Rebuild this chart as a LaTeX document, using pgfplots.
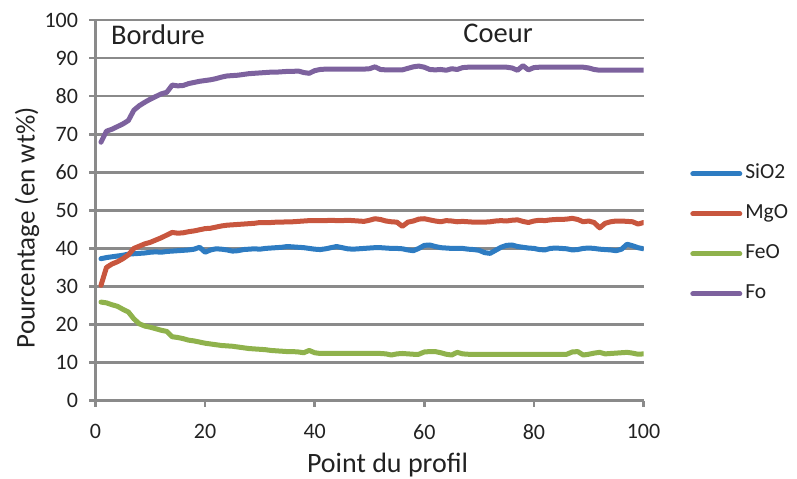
\documentclass[border=0pt]{standalone}
\usepackage{fontspec}
\setmainfont{Carlito}
\usepackage{pgfplots}
\usepackage{pgfplotstable}
\pgfplotsset{compat=1.18}
\definecolor{cSi}{HTML}{2E7CC2}
\definecolor{cMg}{HTML}{C8563E}
\definecolor{cFe}{HTML}{8FB24C}
\definecolor{cFo}{HTML}{7D629E}
\definecolor{gridgray}{HTML}{8A8A8A}
\definecolor{txt}{HTML}{222222}
\pgfplotstableread{
x si mg fe fo
1 37.3 30.3 25.9 67.9
2 37.6 35.0 25.7 70.8
3 37.8 35.9 25.2 71.3
4 38.0 36.5 24.8 72.0
5 38.2 37.3 24.0 72.7
6 38.5 38.3 23.3 73.6
7 38.6 40.0 21.5 76.3
8 38.7 40.6 20.2 77.5
9 38.8 41.2 19.6 78.4
10 39.0 41.6 19.3 79.2
11 39.1 42.2 18.9 79.9
12 39.0 42.8 18.5 80.6
13 39.2 43.5 18.2 81.0
14 39.3 44.2 16.8 82.9
15 39.4 44.0 16.6 82.7
16 39.5 44.1 16.3 82.8
17 39.6 44.4 15.9 83.3
18 39.8 44.6 15.7 83.6
19 40.3 44.9 15.4 83.9
20 39.0 45.2 15.1 84.1
21 39.6 45.3 14.9 84.3
22 39.9 45.6 14.7 84.6
23 39.8 45.9 14.5 85.0
24 39.6 46.1 14.4 85.3
25 39.3 46.2 14.3 85.4
26 39.4 46.3 14.1 85.5
27 39.7 46.4 13.9 85.7
28 39.8 46.5 13.7 85.9
29 39.9 46.6 13.6 86.0
30 39.8 46.8 13.5 86.1
31 40.0 46.8 13.4 86.2
32 40.1 46.8 13.2 86.3
33 40.2 46.9 13.1 86.3
34 40.3 46.9 13.0 86.4
35 40.5 47.0 12.9 86.5
36 40.4 47.0 12.9 86.5
37 40.3 47.1 12.8 86.6
38 40.2 47.2 12.6 86.2
39 40.0 47.3 13.2 86.0
40 39.8 47.3 12.6 86.7
41 39.7 47.3 12.4 87.0
42 39.9 47.3 12.4 87.1
43 40.2 47.4 12.4 87.1
44 40.5 47.3 12.4 87.1
45 40.2 47.3 12.4 87.1
46 39.9 47.4 12.4 87.1
47 39.8 47.3 12.4 87.1
48 39.9 47.2 12.4 87.1
49 40.0 47.1 12.4 87.1
50 40.1 47.4 12.4 87.2
51 40.2 47.8 12.4 87.7
52 40.2 47.6 12.4 87.0
53 40.1 47.2 12.3 86.9
54 40.0 47.0 12.0 86.9
55 40.0 46.9 12.3 86.9
56 39.9 45.8 12.4 86.9
57 39.6 46.9 12.3 87.3
58 39.4 47.2 12.2 87.7
59 40.0 47.7 12.2 87.9
60 40.8 47.8 12.8 87.6
61 40.9 47.5 12.9 87.0
62 40.5 47.2 12.9 86.9
63 40.2 47.0 12.6 87.0
64 40.1 47.3 12.2 86.8
65 40.0 47.2 12.0 87.2
66 40.0 47.0 12.7 87.0
67 40.0 47.1 12.3 87.5
68 39.8 47.0 12.2 87.6
69 39.7 46.9 12.2 87.6
70 39.5 46.9 12.2 87.6
71 38.9 46.9 12.2 87.6
72 38.7 47.0 12.2 87.6
73 39.5 47.2 12.2 87.6
74 40.3 47.3 12.2 87.6
75 40.8 47.2 12.2 87.6
76 40.9 47.4 12.2 87.4
77 40.5 47.5 12.2 86.8
78 40.3 47.1 12.2 88.0
79 40.1 46.8 12.2 86.9
80 40.0 47.2 12.2 87.5
81 39.7 47.4 12.2 87.6
82 39.6 47.3 12.2 87.6
83 40.0 47.5 12.2 87.6
84 40.1 47.6 12.2 87.6
85 40.0 47.6 12.2 87.6
86 39.9 47.7 12.2 87.6
87 39.6 47.9 12.8 87.6
88 39.7 47.6 12.9 87.6
89 40.0 47.0 12.0 87.6
90 40.1 47.2 12.2 87.4
91 40.0 46.8 12.5 87.0
92 39.8 45.4 12.7 86.8
93 39.7 46.6 12.3 86.8
94 39.6 47.0 12.4 86.8
95 39.4 47.2 12.5 86.8
96 39.8 47.2 12.6 86.8
97 41.1 47.1 12.7 86.8
98 40.7 47.0 12.5 86.8
99 40.2 46.4 12.2 86.8
100 39.9 46.8 12.3 86.8
}\data

\begin{document}
\begin{tikzpicture}
\useasboundingbox (0,0) rectangle (797bp,479bp);
\begin{axis}[
  at={(95.5bp,78.3bp)}, anchor=south west,
  scale only axis, width=548bp, height=380.7bp,
  xmin=0, xmax=100, ymin=0, ymax=100,
  xtick={0,20,...,100}, ytick={0,10,...,100},
  axis x line*=bottom, axis y line*=left,
  ymajorgrids,
  major grid style={color=gridgray, line width=2.6bp},
  axis line style={gridgray, line width=2.6bp},
  tick style={gridgray, line width=2.6bp},
  tick align=outside, major tick length=6bp,
  /pgf/number format/assume math mode=true,
  ticklabel style={font=\fontsize{22bp}{24bp}\selectfont, text=txt},
  yticklabel style={xshift=-8bp},
  xticklabel style={yshift=-14bp},
  xlabel={Point du profil},
  ylabel={Pourcentage (en wt\%)},
  label style={text=txt, inner sep=0pt},
  xlabel style={font=\fontsize{28bp}{30bp}\selectfont, at={(axis description cs:0.533,-0.168)}, anchor=center},
  ylabel style={font=\fontsize{27bp}{30bp}\selectfont, at={(axis description cs:-0.125,0.454)}, anchor=center},
  every axis plot/.append style={line width=5bp, line join=round, line cap=round},
  legend image code/.code={\draw[#1] (0bp,0bp) -- (47bp,0bp);},
  legend cell align=left,
  legend style={at={(1.085,0.62)}, anchor=north west, draw=none, fill=none,
    inner sep=0pt, row sep=22bp,
    font=\fontsize{21.5bp}{24bp}\selectfont, text=txt,
    nodes={inner sep=0pt, text height=14bp, text depth=4bp},
    /tikz/every odd column/.append style={column sep=3bp}},
]
\addplot[cSi] table[x=x,y=si]{\data};
\addplot[cMg] table[x=x,y=mg]{\data};
\addplot[cFe] table[x=x,y=fe]{\data};
\addplot[cFo] table[x=x,y=fo]{\data};
\legend{SiO2,MgO,FeO,Fo}
\node[anchor=west, font=\fontsize{28.5bp}{32bp}\selectfont, text=txt, inner sep=0pt] at (axis cs:2.8,96.1) {Bordure};
\node[anchor=west, font=\fontsize{28.5bp}{32bp}\selectfont, text=txt, inner sep=0pt] at (axis cs:67.1,96.5) {Coeur};
\end{axis}
\end{tikzpicture}
\end{document}
